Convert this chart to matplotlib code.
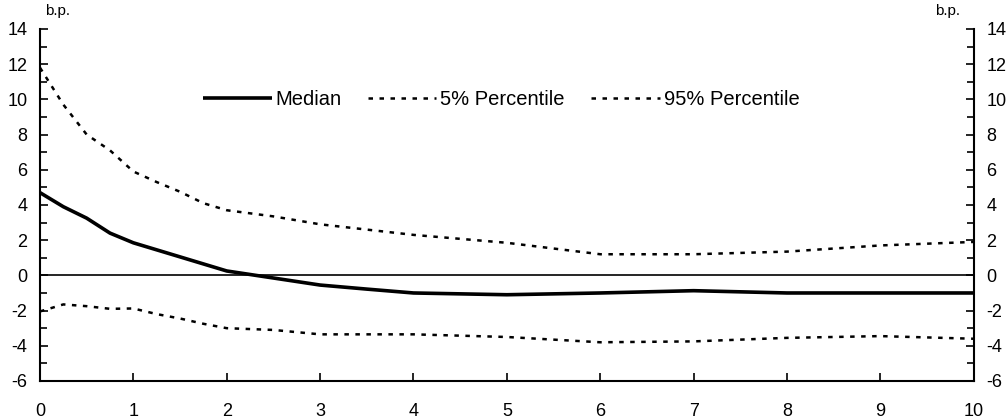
import matplotlib
matplotlib.use("Agg")
import matplotlib.pyplot as plt
from matplotlib.ticker import MultipleLocator

plt.rcParams['font.family'] = ['Liberation Sans', 'DejaVu Sans']
plt.rcParams['axes.unicode_minus'] = False

# horizon (years)
years = [0, 0.25, 0.5, 0.75, 1, 1.25, 1.5, 1.75, 2, 2.5, 3, 3.5, 4, 5, 6, 7, 8, 9, 10]

median = [4.7, 3.9, 3.25, 2.4, 1.85, 1.45, 1.05, 0.65, 0.25, -0.15, -0.55, -0.78, -1.0,
          -1.1, -1.0, -0.87, -1.0, -1.0, -1.0]
p5 = [-2.05, -1.65, -1.75, -1.9, -1.88, -2.2, -2.45, -2.75, -3.0, -3.1, -3.35, -3.35, -3.35,
      -3.5, -3.8, -3.75, -3.55, -3.45, -3.6]
p95 = [11.8, 9.7, 8.0, 7.1, 5.9, 5.3, 4.75, 4.1, 3.7, 3.35, 2.9, 2.6, 2.3,
       1.85, 1.2, 1.2, 1.35, 1.7, 1.9]

fig = plt.figure(figsize=(10.07, 4.19), dpi=100)
ax = fig.add_axes([0.0397, 0.0907, 0.9273, 0.8403])

ax.axhline(0, color='black', lw=1.2, zorder=1)
ax.plot(years, median, color='black', lw=2.6, label='Median', solid_capstyle='butt')
ax.plot(years, p5, color='black', lw=1.8, linestyle=(0, (1.8, 2.6)), label='5% Percentile')
ax.plot(years, p95, color='black', lw=1.8, linestyle=(0, (1.8, 2.6)), label='95% Percentile')

ax.set_xlim(0, 10)
ax.set_ylim(-6, 14)
ax.xaxis.set_major_locator(MultipleLocator(1))
ax.yaxis.set_major_locator(MultipleLocator(2))
ax.yaxis.set_minor_locator(MultipleLocator(1))

ax.spines['top'].set_visible(False)
for s in ['left', 'right', 'bottom']:
    ax.spines[s].set_linewidth(1.5)

ax.tick_params(axis='y', which='both', direction='in', left=True, right=True,
               labelleft=True, labelright=True, labelsize=13, width=1.2, pad=9)
ax.tick_params(axis='y', which='major', length=6)
ax.tick_params(axis='y', which='minor', length=5)
ax.tick_params(axis='x', which='major', direction='in', length=6, width=1.2,
               labelsize=13, pad=16)

ax.text(0.005, 1.03, 'b.p.', transform=ax.transAxes, fontsize=11, ha='left', va='bottom')
ax.text(0.985, 1.03, 'b.p.', transform=ax.transAxes, fontsize=11, ha='right', va='bottom')

ax.legend(loc='center', bbox_to_anchor=(0.494, 0.80), ncol=3, frameon=False,
          fontsize=14.5, handlelength=3.4, handletextpad=0.2, columnspacing=1.3)

plt.savefig('out.png', dpi=100)
